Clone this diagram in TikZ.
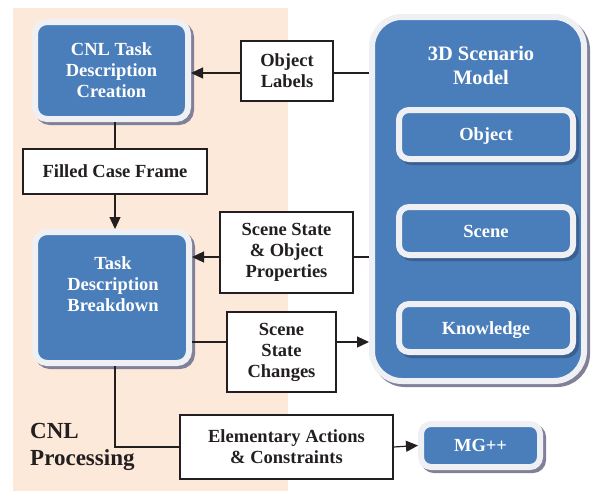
\documentclass[tikz,border=0pt]{standalone}
\usepackage{fontspec}
\setmainfont{Liberation Serif}
\usetikzlibrary{arrows.meta}
\definecolor{peach}{RGB}{253,233,217}
\definecolor{boxblue}{RGB}{74,126,187}
\definecolor{rim}{RGB}{239,240,243}
\definecolor{shadowgray}{RGB}{128,128,153}
\definecolor{shadowblue}{RGB}{58,96,146}
\definecolor{ink}{RGB}{35,31,32}
\begin{document}
\begin{tikzpicture}[x=1pt,y=-1pt,
  txt/.style={font=\fontsize{18.5}{21}\selectfont\bfseries, align=center, inner sep=0pt},
  panelbase/.style={txt, draw=rim, line width=6pt, fill=boxblue, rounded corners=12pt, text=white},
  panel/.style={panelbase, preaction={draw=shadowgray, fill=shadowgray, line width=6pt, transform canvas={shift={(3pt,-3pt)}}}},
  subpanel/.style={panelbase, rounded corners=10pt, text depth=0pt, preaction={draw=shadowblue, fill=shadowblue, line width=6pt, transform canvas={shift={(3pt,-3pt)}}}},
  lbox/.style={txt, draw=ink, line width=1.2pt, fill=white, text=ink},
  link/.style={draw=ink, line width=1.2pt},
  arr/.style={link, -{Triangle[length=12pt,width=11pt]}},
]
\fill[white] (0,0) rectangle (591,491);
\useasboundingbox (0,0) rectangle (591,491);
\fill[peach] (13,8) rectangle (288,491);

% left column
\node[panel, minimum width=153pt, minimum height=97pt] (cnl) at (111.5,70.5) {CNL Task\\Description\\Creation};
\node[panel, minimum width=154pt, minimum height=131pt] (tdb) at (112,297.5) {};
\node[txt, text=white] (tdbt) at (113,284) {Task\\Description\\Breakdown};
\node[txt, text=ink, font=\fontsize{23}{27}\selectfont\bfseries, align=left, anchor=west] (cnlp) at (30,447) {CNL\\Processing};

% 3D scenario model
\node[panel, rounded corners=30pt, minimum width=212pt, minimum height=364pt] (model) at (478,199) {};
\node[txt, text=white, font=\fontsize{20.5}{24}\selectfont\bfseries] (modelt) at (481,65.5) {3D Scenario\\Model};
\node[subpanel, minimum width=174pt, minimum height=49pt] (obj) at (486,134.5) {Object};
\node[subpanel, minimum width=174pt, minimum height=48pt] (scene) at (486,231) {Scene};
\node[subpanel, minimum width=174pt, minimum height=48pt] (know) at (486,328) {Knowledge};

% MG++
\node[panel, rounded corners=10pt, text depth=0pt, minimum width=119pt, minimum height=43pt] (mg) at (480.5,445.5) {MG++};

% label boxes
\node[lbox, minimum width=92pt, minimum height=60pt] (ol) at (287,71) {Object\\Labels};
\node[lbox, minimum width=184pt, minimum height=45pt] (fcf) at (115,171.5) {Filled Case Frame};
\node[lbox, minimum width=133pt, minimum height=81pt] (ssop) at (286.5,252.5) {Scene State\\\& Object\\Properties};
\node[lbox, minimum width=109pt, minimum height=80pt] (ssc) at (281.5,352) {Scene\\State\\Changes};
\node[lbox, minimum width=213pt, minimum height=64pt] (eac) at (286.5,447) {Elementary Actions\\\& Constraints};

% connectors
\coordinate (y1) at (0,73);
\coordinate (y2) at (0,257);
\coordinate (y3) at (0,342);
\draw[arr] (ol.west |- y1) -- (cnl.east |- y1);
\draw[link] (ol.east |- y1) -- (model.west |- y1);
\draw[link] (fcf.north |- cnl.south) -- (fcf.north);
\draw[arr] (fcf.south) -- (fcf.south |- tdb.north);
\draw[arr] (ssop.west |- y2) -- (tdb.east |- y2);
\draw[link] (ssop.east |- y2) -- (model.west |- y2);
\draw[link] (tdb.east |- y3) -- (ssc.west |- y3);
\draw[arr] (ssc.east |- y3) -- (model.west |- y3);
\draw[link] (fcf.south |- tdb.south) -- (fcf.south |- eac.west) -- (eac.west);
\draw[arr] (eac.east) -- (mg.west);
\end{tikzpicture}
\end{document}
